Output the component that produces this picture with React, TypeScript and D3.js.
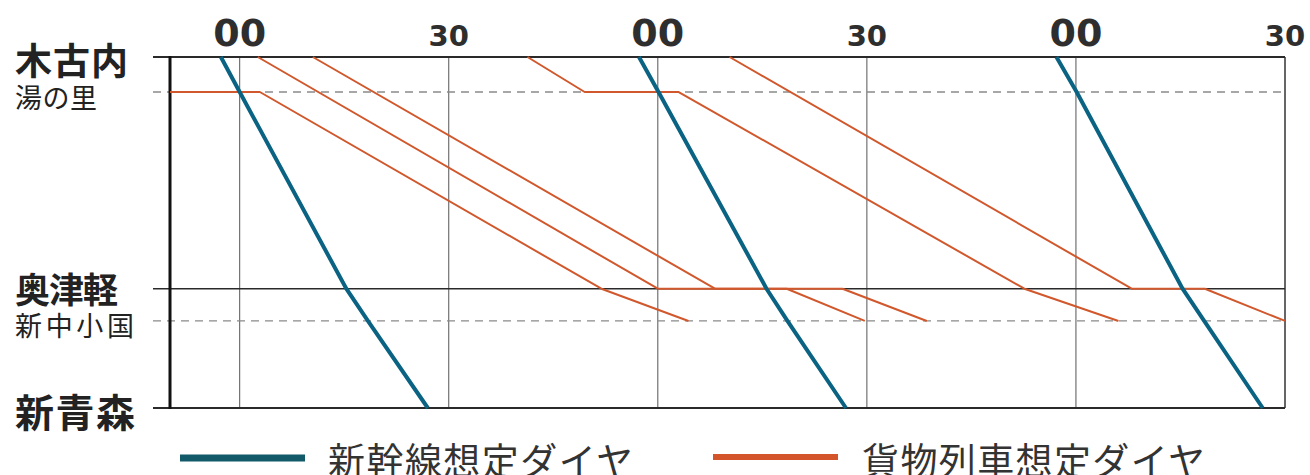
import React from "react";
import * as d3 from "d3";

// stations, top to bottom, with distance from 木古内 in km
const stations = ["木古内", "湯の里", "奥津軽", "新中小国", "新青森"];
const stationKm = [0, 11.3, 74.8, 85.2, 113.3];

const tickMinutes = [0, 30, 60, 90, 120, 150];
const tickLabels = ["00", "30", "00", "30", "00", "30"];

// shinkansen: minute at each station (木古内, 湯の里, 奥津軽, 新中小国, 新青森)
const shinkansen1 = [-2.7, 0, 15.3, 18.4, 27.0];
const shinkansen2 = [57.3, 60.1, 75.6, 78.6, 87.0];
const shinkansen3 = [117.2, 120.1, 135.3, 138.4, 146.8];

// freight trains: [station, minute]
const freightA = [["湯の里", -10], ["湯の里", 2.9], ["奥津軽", 51.9], ["新中小国", 64.4]];
const freightB = [["木古内", 2.6], ["奥津軽", 60.0], ["奥津軽", 78.5], ["新中小国", 89.7]];
const freightC = [["木古内", 10.5], ["奥津軽", 68.2], ["奥津軽", 86.5], ["新中小国", 98.6]];
const freightD = [["木古内", 41.3], ["湯の里", 49.5], ["湯の里", 63.0], ["奥津軽", 112.6], ["新中小国", 126.1]];
const freightE = [["木古内", 70.3], ["奥津軽", 128.0], ["奥津軽", 138.5], ["新中小国", 150]];

const legendLabels = ["新幹線想定ダイヤ", "貨物列車想定ダイヤ"];

const BLUE = "#0a6383";
const ORANGE = "#d0582c";

export default function App() {
  const width = 1310, height = 475;

  const x = d3.scaleLinear().domain([-10, 150]).range([170, 1285]);
  const y = d3.scaleLinear().domain([0, 113.3]).range([57, 408]);
  const kmOf = (s) => stationKm[stations.indexOf(s)];

  const blueLine = d3.line().x((d) => x(d[1])).y((d) => y(d[0]));
  const freightLine = d3.line().x((d) => x(d[1])).y((d) => y(kmOf(d[0])));

  const shinkansen = [shinkansen1, shinkansen2, shinkansen3];
  const freight = [freightA, freightB, freightC, freightD, freightE];

  // label looks per station
  const labelStyle = {
    "木古内": { size: 37, weight: 700, dy: 2, len: 113 },
    "湯の里": { size: 27, weight: 400, dy: 4, len: 82 },
    "奥津軽": { size: 35, weight: 700, dy: -1, len: 103 },
    "新中小国": { size: 27, weight: 400, dy: 4, len: 119 },
    "新青森": { size: 39, weight: 700, dy: 2, len: 120 },
  };

  const left = x(-10), right = x(150);

  return (
    <svg width={width} height={height} style={{ position: "absolute", left: 0, top: 0, background: "#fff" }}
      fontFamily="'Noto Sans CJK JP', 'Noto Sans', sans-serif">
      {/* vertical grid lines */}
      {tickMinutes.map((t, i) => (
        <line key={"v" + i} x1={x(t)} x2={x(t)} y1={y(0)} y2={y(113.3)}
          stroke={i === tickMinutes.length - 1 ? "#333" : "#555"} strokeWidth={i === tickMinutes.length - 1 ? 1.5 : 1} />
      ))}

      {/* station lines */}
      {stations.map((s, i) => {
        const major = i % 2 === 0;
        return (
          <line key={"h" + s} x1={153} x2={right} y1={y(stationKm[i])} y2={y(stationKm[i])}
            stroke={major ? "#2a2a2a" : "#8a8a8a"}
            strokeWidth={major ? (i === 2 ? 1.5 : 2) : 1.3}
            strokeDasharray={major ? null : "8,6"} />
        );
      })}

      {/* left axis */}
      <line x1={left} x2={left} y1={y(0) - 1} y2={y(113.3) + 1} stroke="#111" strokeWidth={3} />

      {/* top tick labels */}
      {tickMinutes.map((t, i) => (
        <text key={"t" + i} x={x(t)} y={46} textAnchor="middle" fontFamily="'DejaVu Sans', sans-serif"
          fontWeight="bold" fontSize={tickLabels[i] === "00" ? 38 : 29} fill="#2e2e2e">
          {tickLabels[i]}
        </text>
      ))}

      {/* station labels */}
      {stations.map((s, i) => {
        const st = labelStyle[s];
        return (
          <text key={"l" + s} x={15} y={y(stationKm[i]) + st.dy} dominantBaseline="central"
            fontSize={st.size} fontWeight={st.weight} fill="#222" textLength={st.len} lengthAdjust="spacing">
            {s}
          </text>
        );
      })}

      {/* freight trains */}
      {freight.map((f, i) => (
        <path key={"f" + i} d={freightLine(f)} fill="none" stroke={ORANGE} strokeWidth={2} strokeLinejoin="round" />
      ))}

      {/* shinkansen */}
      {shinkansen.map((s, i) => (
        <path key={"s" + i} d={blueLine(s.map((t, j) => [stationKm[j], t]))} fill="none" stroke={BLUE} strokeWidth={4} />
      ))}

      {/* legend */}
      <line x1={180} x2={305} y1={458} y2={458} stroke="#125a6a" strokeWidth={7} />
      <text x={328} y={459} dominantBaseline="central" fontSize={37} fill="#333" textLength={305} lengthAdjust="spacing">
        {legendLabels[0]}
      </text>
      <line x1={713} x2={838} y1={457} y2={457} stroke="#d4552a" strokeWidth={6} />
      <text x={862} y={459} dominantBaseline="central" fontSize={37} fill="#333" textLength={343} lengthAdjust="spacing">
        {legendLabels[1]}
      </text>
    </svg>
  );
}
